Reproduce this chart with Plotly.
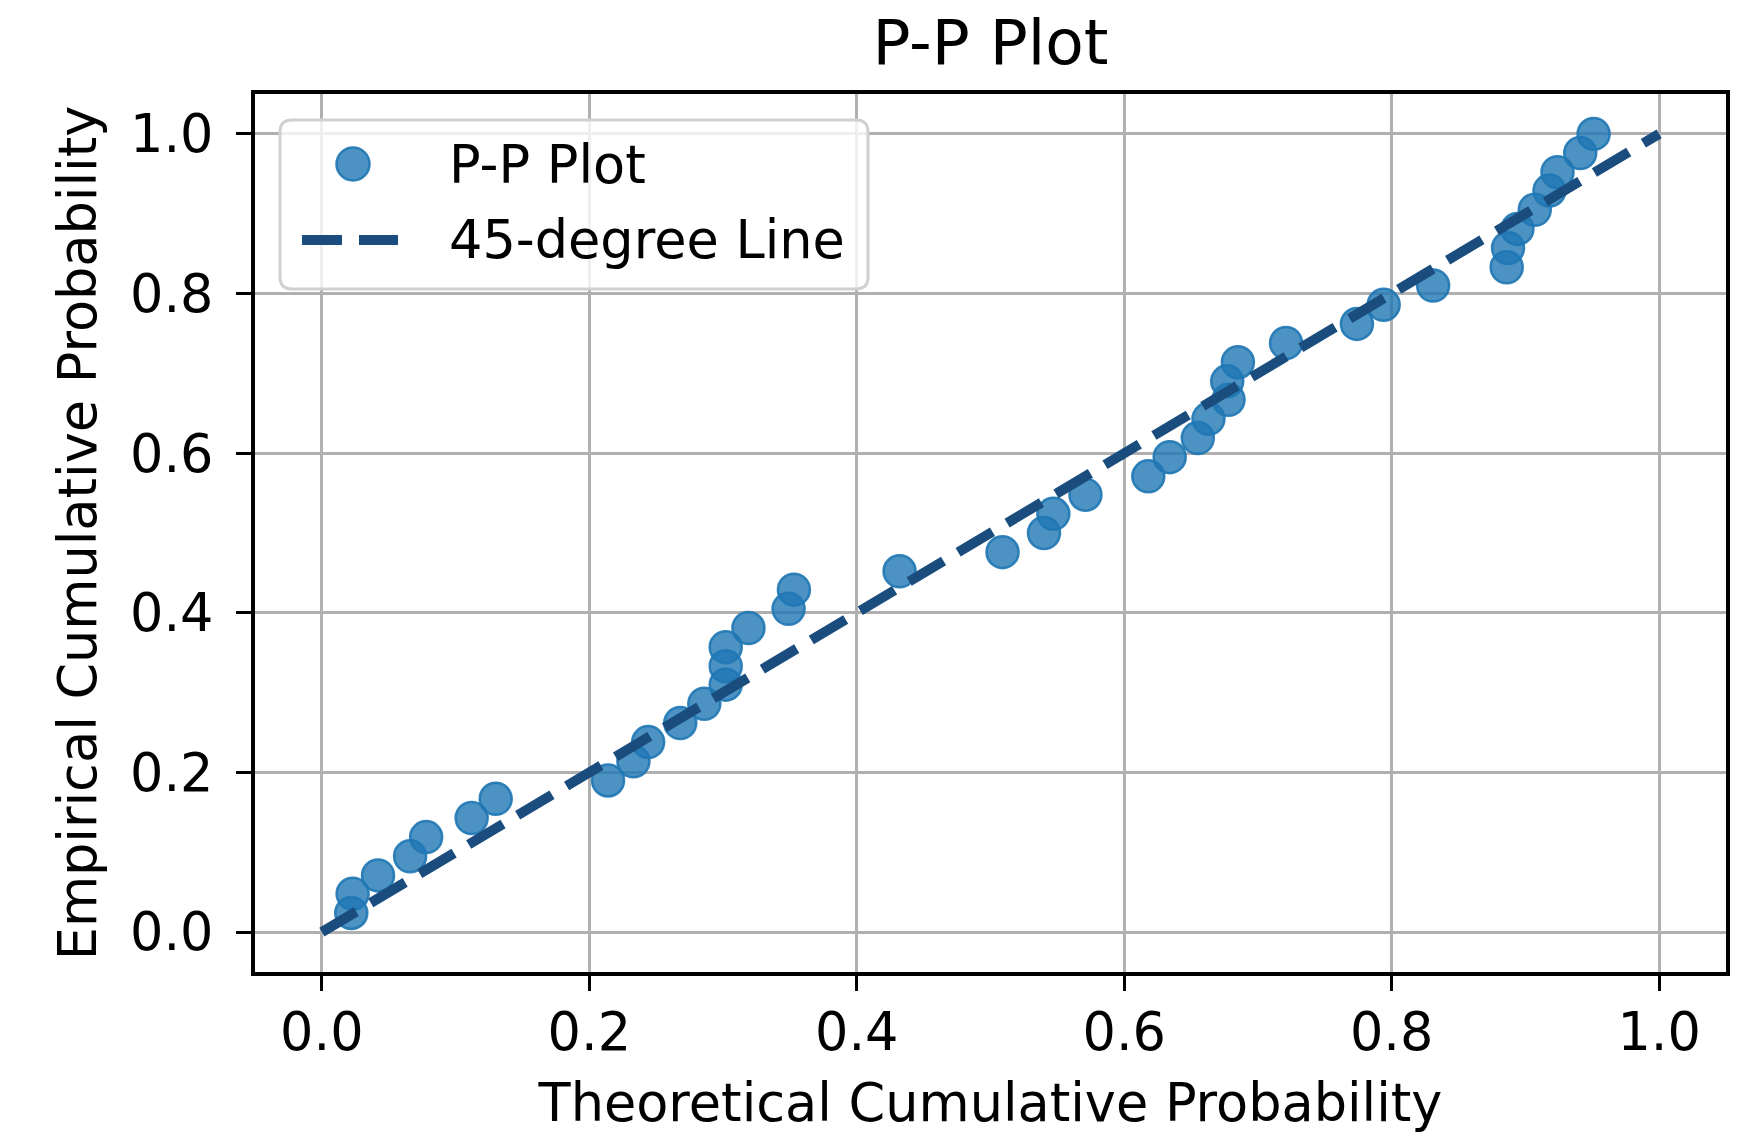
import plotly.graph_objects as go

# Data
theoretical = [0.022, 0.023, 0.042, 0.066, 0.078, 0.112, 0.130, 0.214, 0.233, 0.244,
               0.268, 0.286, 0.302, 0.302, 0.302, 0.319, 0.349, 0.353, 0.432, 0.509,
               0.540, 0.547, 0.571, 0.618, 0.634, 0.655, 0.663, 0.678, 0.677, 0.685,
               0.721, 0.774, 0.794, 0.831, 0.886, 0.887, 0.894, 0.907, 0.918, 0.924,
               0.941, 0.951]
empirical = [0.024, 0.048, 0.071, 0.095, 0.119, 0.143, 0.167, 0.190, 0.214, 0.238,
             0.262, 0.286, 0.310, 0.333, 0.357, 0.381, 0.405, 0.429, 0.452, 0.476,
             0.500, 0.524, 0.548, 0.571, 0.595, 0.619, 0.643, 0.667, 0.690, 0.714,
             0.738, 0.762, 0.786, 0.810, 0.833, 0.857, 0.881, 0.905, 0.929, 0.952,
             0.976, 1.000]
line_x = [0.0, 1.0]
line_y = [0.0, 1.0]
tick_vals = [0.0, 0.2, 0.4, 0.6, 0.8, 1.0]
tick_text = ["0.0", "0.2", "0.4", "0.6", "0.8", "1.0"]
legend_labels = ["P-P Plot", "45-degree Line"]

FONT = "DejaVu Sans"
FS = 52.5
POINT_FILL = "rgba(31,119,180,0.8)"
POINT_EDGE = "rgba(31,119,180,0.9)"
LINE_COLOR = "#1a4d7e"
LINE_DASH = "40px,17px"

fig = go.Figure()
fig.add_trace(go.Scatter(
    x=theoretical, y=empirical, mode="markers", name=legend_labels[0],
    marker=dict(size=32, color=POINT_FILL, line=dict(color=POINT_EDGE, width=2.5)),
    showlegend=False,
))
fig.add_trace(go.Scatter(
    x=line_x, y=line_y, mode="lines", name=legend_labels[1],
    line=dict(color=LINE_COLOR, width=10, dash=LINE_DASH),
    showlegend=False,
))

axis_common = dict(
    showgrid=True, gridcolor="#b0b0b0", gridwidth=3,
    showline=True, linecolor="black", linewidth=4, mirror=True,
    ticks="outside", ticklen=15, tickwidth=3, tickcolor="black",
    zeroline=False,
    tickfont=dict(family=FONT, size=FS, color="black"),
    tickvals=tick_vals, ticktext=tick_text,
)

# Legend box drawn in paper coordinates (matplotlib-style rounded frame)
PW, PH = 1471.0, 878.0
def px(xp):
    return (xp - 255) / PW
def py(yp):
    return (972 - yp) / PH

bx0, bx1, by0, by1 = px(280), px(868), py(289), py(120)
rx, ry = 12 / PW, 12 / PH
box_path = (
    f"M {bx0+rx},{by0} L {bx1-rx},{by0} Q {bx1},{by0} {bx1},{by0+ry} "
    f"L {bx1},{by1-ry} Q {bx1},{by1} {bx1-rx},{by1} "
    f"L {bx0+rx},{by1} Q {bx0},{by1} {bx0},{by1-ry} "
    f"L {bx0},{by0+ry} Q {bx0},{by0} {bx0+rx},{by0} Z"
)

shapes = [
    dict(type="path", xref="paper", yref="paper", path=box_path,
         fillcolor="rgba(255,255,255,0.8)", line=dict(color="#d0d0d0", width=3),
         layer="above"),
    dict(type="circle", xref="paper", yref="paper",
         x0=px(336.5), x1=px(369.5), y0=py(180.5), y1=py(147.5),
         fillcolor=POINT_FILL, line=dict(color=POINT_EDGE, width=2.5), layer="above"),
    dict(type="line", xref="paper", yref="paper",
         x0=px(302), x1=px(398), y0=py(240), y1=py(240),
         line=dict(color=LINE_COLOR, width=10, dash=LINE_DASH), layer="above"),
]
annotations = [
    dict(text=legend_labels[0], xref="paper", yref="paper", x=px(447), y=py(164),
         xanchor="left", yanchor="middle", showarrow=False,
         font=dict(family=FONT, size=FS, color="black")),
    dict(text=legend_labels[1], xref="paper", yref="paper", x=px(447), y=py(240),
         xanchor="left", yanchor="middle", showarrow=False,
         font=dict(family=FONT, size=FS, color="black")),
]

fig.update_layout(
    width=1742, height=1138,
    margin=dict(l=255, r=16, t=94, b=166),
    paper_bgcolor="white", plot_bgcolor="white",
    font=dict(family=FONT, size=FS, color="black"),
    title=dict(text="P-P Plot", x=0.5, xanchor="center", xref="paper",
               y=1 - 42 / 1138, yref="container", yanchor="middle",
               font=dict(family=FONT, size=63, color="black")),
    xaxis=dict(range=[-0.05, 1.05],
               title=dict(text="Theoretical Cumulative Probability",
                          font=dict(family=FONT, size=FS), standoff=24),
               ticklabelstandoff=-4, **axis_common),
    yaxis=dict(range=[-0.05, 1.05],
               title=dict(text="Empirical Cumulative Probability",
                          font=dict(family=FONT, size=FS), standoff=18),
               ticklabelstandoff=12, **axis_common),
    shapes=shapes,
    annotations=annotations,
    showlegend=False,
)

fig.write_html("out.html")
